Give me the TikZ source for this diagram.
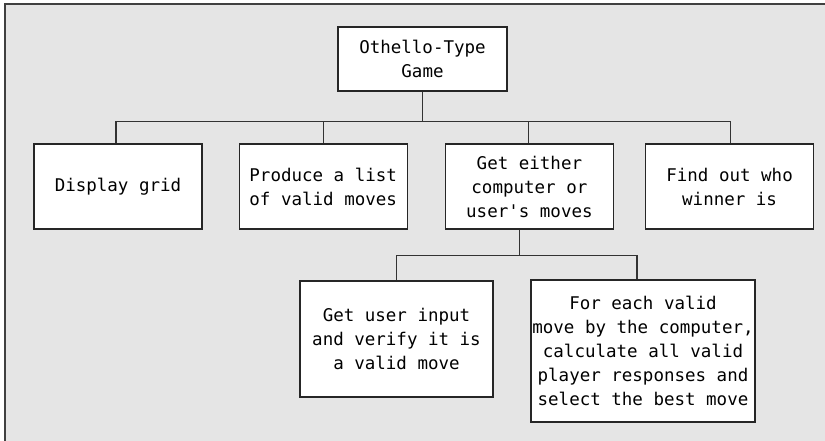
\documentclass[tikz,border=0pt]{standalone}
\usepackage{fontspec}
\setmonofont{DejaVu Sans Mono}
\usetikzlibrary{positioning}

\begin{document}
\begin{tikzpicture}[x=1pt, y=1pt, box/.style={draw=black!85, line width=1.2pt, fill=white, align=center, inner sep=0pt, minimum width=168pt, minimum height=85pt, font=\ttfamily\fontsize{17.5}{24}\selectfont}, link/.style={draw=black!80, line width=1.1pt}]

\useasboundingbox (0,0) rectangle (825,-440);
\fill[black!10] (5,-4) rectangle (830,-445);
\draw[black!75, line width=1.6pt] (830,-4) -- (5,-4) -- (5,-445);

\node[box, minimum width=169pt, minimum height=64pt] (game) at (422.5,-59) {Othello-Type\\Game};
\node[box] (grid) at (118,-186.5) {Display grid};
\node[box, right=36pt of grid] (list) {Produce a list\\of valid moves};
\node[box, right=37pt of list] (either) {Get either\\computer or\\user's moves};
\node[box, right=31pt of either] (winner) {Find out who\\winner is};
\node[box, minimum width=193pt, minimum height=116pt] (input) at (396.5,-339) {Get user input\\and verify it is\\a valid move};
\node[box, minimum width=224pt, minimum height=142pt] (best) at (643,-351) {For each valid\\move by the computer,\\calculate all valid\\player responses and\\select the best move};

\coordinate (split1) at ([yshift=-30pt]game.south);
\draw[link] (game.south) -- (split1);
\draw[link] (split1) -| ([xshift=-2pt]grid.north);
\draw[link] (split1) -| (list.north);
\draw[link] (split1) -| ([xshift=-1pt]either.north);
\draw[link] (split1) -| ([xshift=1pt]winner.north);

\coordinate (split2) at ([xshift=-10pt, yshift=-26pt]either.south);
\draw[link] ([xshift=-10pt]either.south) -- (split2);
\draw[link] (split2) -| (input.north);
\draw[link] (split2) -| ([xshift=-6pt]best.north);

\end{tikzpicture}
\end{document}
